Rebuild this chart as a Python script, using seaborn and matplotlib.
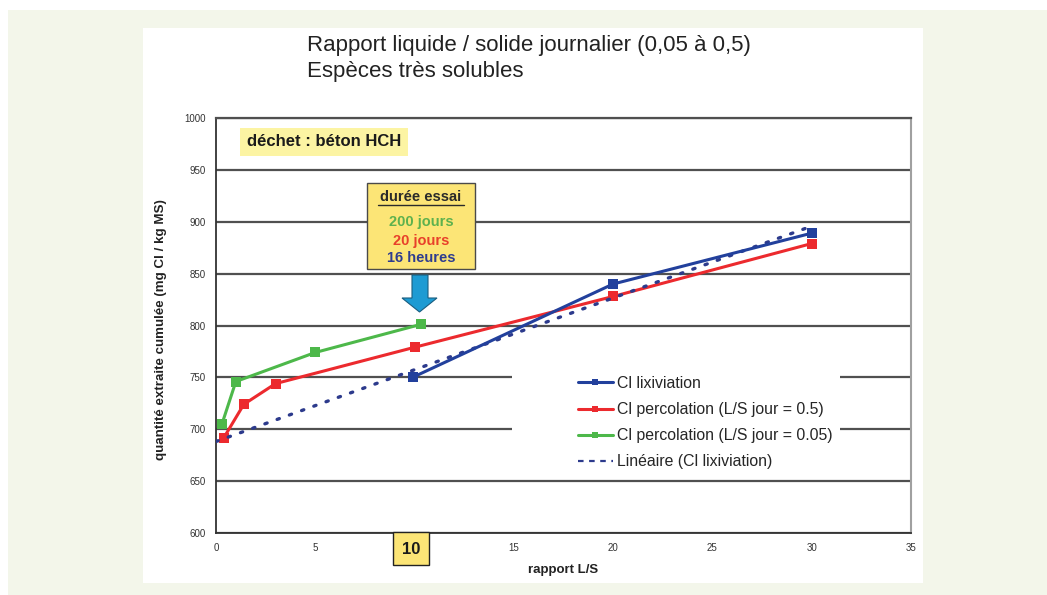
import numpy as np
import pandas as pd
import matplotlib
matplotlib.use("Agg")
import matplotlib.pyplot as plt
import matplotlib.patches as mpatches
from matplotlib.lines import Line2D
import seaborn as sns

# ---- data ----
lix_x = [9.9, 20.0, 30.0]
lix_y = [750, 840, 889]
perc05_x = [0.4, 1.4, 3.0, 10.0, 20.0, 30.0]
perc05_y = [692, 724, 744, 779, 828, 879]
perc005_x = [0.3, 1.0, 5.0, 10.3]
perc005_y = [705, 746, 774, 801]
series_labels = ["Cl lixiviation", "Cl percolation (L/S jour = 0.5)",
                 "Cl percolation (L/S jour = 0.05)", "Linéaire (Cl lixiviation)"]
x_ticks = [0, 5, 10, 15, 20, 25, 30, 35]
y_ticks = [600, 650, 700, 750, 800, 850, 900, 950, 1000]

W, H = 1047, 595
sns.set_style("white")
plt.rcParams['font.family'] = ['Liberation Sans', 'DejaVu Sans']

fig = plt.figure(figsize=(W / 100, H / 100), dpi=100)
fig.patch.set_facecolor("white")

def fx(px):
    return px / W

def fy(py):
    return 1 - py / H

# backgrounds
fig.patches.append(mpatches.Rectangle((fx(8), 0), 1 - fx(8), (H - 10) / H,
                                      transform=fig.transFigure, facecolor="#f3f6ea",
                                      edgecolor="none", zorder=-10))
fig.patches.append(mpatches.Rectangle((fx(143), fy(583)), (923 - 143) / W, (583 - 28) / H,
                                      transform=fig.transFigure, facecolor="white",
                                      edgecolor="none", zorder=-9))

ax = fig.add_axes([fx(216), fy(533), (911 - 216) / W, (533 - 118) / H])
ax.set_facecolor("white")

blue = "#22409c"
red = "#ec2a2e"
green = "#4db84a"
trend_col = "#2c3a8c"

sns.lineplot(x=lix_x, y=lix_y, ax=ax, color=blue, marker="s", markersize=6.5,
             markeredgewidth=0, linewidth=2.2, sort=False, zorder=4)
sns.lineplot(x=perc05_x, y=perc05_y, ax=ax, color=red, marker="s", markersize=6.5,
             markeredgewidth=0, linewidth=2.2, sort=False, zorder=3)
sns.lineplot(x=perc005_x, y=perc005_y, ax=ax, color=green, marker="s", markersize=6.5,
             markeredgewidth=0, linewidth=2.2, sort=False, zorder=3)

# linear trendline of Cl lixiviation
slope, intercept = np.polyfit(lix_x, lix_y, 1)
tx = np.array([0.0, 30.0])
ty = slope * tx + intercept
sns.lineplot(x=tx, y=ty, ax=ax, color=trend_col, linewidth=2.4, sort=False, zorder=3)
tl = ax.lines[-1]
tl.set_linestyle((0, (0.7, 3.2)))
tl.set_dash_capstyle("round")

ax.set_xlim(0, 35)
ax.set_ylim(600, 1000)
ax.set_xticks(x_ticks)
ax.set_yticks(y_ticks)
ax.set_xticks(np.arange(0, 36, 1), minor=True)
ax.set_yticks(np.arange(600, 1001, 10), minor=True)
xl = [str(t) for t in x_ticks]
xl[x_ticks.index(10)] = ""
ax.set_xticklabels(xl)
ax.set_yticklabels([str(t) for t in y_ticks])
ax.tick_params(axis="both", which="major", direction="inout", length=7, width=1.2,
               color="#333333", labelsize=7, labelcolor="#333333")
ax.tick_params(axis="both", which="minor", direction="inout", length=4, width=1.0,
               color="#333333")
ax.tick_params(axis="x", which="major", pad=4)
ax.tick_params(axis="y", which="major", pad=4)

ax.set_axisbelow(True)
ax.yaxis.grid(True, which="major", color="#505050", linewidth=1.6)
ax.xaxis.grid(False)

for s in ["left", "bottom"]:
    ax.spines[s].set_color("#333333")
    ax.spines[s].set_linewidth(1.3)
ax.spines["top"].set_color("#505050")
ax.spines["top"].set_linewidth(1.6)
ax.spines["right"].set_color("#a0a0a0")
ax.spines["right"].set_linewidth(1.5)

ax.set_ylabel("quantité extraite cumulée (mg Cl / kg MS)", fontsize=9.6,
              fontweight="bold", color="#222222")
ax.yaxis.set_label_coords((167 - 216) / 695, 0.49)
ax.set_xlabel("rapport L/S", fontsize=9.5, fontweight="bold", color="#222222")
ax.xaxis.set_label_coords(0.5, (533 - 564) / 415)

# white legend background masking grid
ax.add_patch(mpatches.Rectangle(((512 - 216) / 695, (533 - 478) / 415),
                                (840 - 512) / 695, (478 - 362) / 415,
                                transform=ax.transAxes, facecolor="white",
                                edgecolor="none", zorder=1))

handles = [
    Line2D([], [], color=blue, marker="s", markersize=5, markeredgewidth=0, linewidth=2.2),
    Line2D([], [], color=red, marker="s", markersize=5, markeredgewidth=0, linewidth=2.2),
    Line2D([], [], color=green, marker="s", markersize=5, markeredgewidth=0, linewidth=2.2),
    Line2D([], [], color=trend_col, linewidth=1.6, linestyle=(0, (2.5, 2.5))),
]
ax.legend(handles, series_labels, loc="upper left",
          bbox_to_anchor=((578 - 216) / 695, (533 - 376) / 415),
          frameon=False, fontsize=11.4, borderpad=0, borderaxespad=0,
          handlelength=2.2, handletextpad=0.25, labelspacing=0.7)

# title
fig.text(fx(307), fy(45), "Rapport liquide / solide journalier (0,05 à 0,5)",
         fontsize=16, color="#222222", va="center", ha="left")
fig.text(fx(307), fy(71), "Espèces très solubles",
         fontsize=16, color="#222222", va="center", ha="left")

# déchet box
fig.patches.append(mpatches.Rectangle((fx(240), fy(156)), (408 - 240) / W, 28 / H,
                                      transform=fig.transFigure, facecolor="#fcf4a3",
                                      edgecolor="none", zorder=5))
fig.text(fx(324), fy(142), "déchet : béton HCH", fontsize=12, fontweight="bold",
         color="#1a1a1a", ha="center", va="center", zorder=6)

# durée essai box
fig.patches.append(mpatches.Rectangle((fx(367), fy(269)), (475 - 367) / W, (269 - 183) / H,
                                      transform=fig.transFigure, facecolor="#fce576",
                                      edgecolor="#4a4a4a", linewidth=1.0, zorder=5))
fig.text(fx(421), fy(197), "durée essai", fontsize=10.5, fontweight="bold",
         color="#2a2a2a", ha="center", va="center", zorder=6)
fig.add_artist(Line2D([fx(378), fx(464)], [fy(205), fy(205)], color="#2a2a2a",
                      linewidth=1.0, transform=fig.transFigure, zorder=6))
fig.text(fx(421), fy(222), "200 jours", fontsize=10.5, fontweight="bold",
         color="#5db14e", ha="center", va="center", zorder=6)
fig.text(fx(421), fy(241), "20 jours", fontsize=10.5, fontweight="bold",
         color="#e8402a", ha="center", va="center", zorder=6)
fig.text(fx(421), fy(258), "16 heures", fontsize=10.5, fontweight="bold",
         color="#2e3c8f", ha="center", va="center", zorder=6)

# arrow
arrow_px = [(412, 275), (428, 275), (428, 298), (437, 298), (419.5, 312),
            (402, 298), (412, 298)]
fig.patches.append(mpatches.Polygon([(fx(a), fy(b)) for a, b in arrow_px], closed=True,
                                    transform=fig.transFigure, facecolor="#1d9bd3",
                                    edgecolor="#1a5e80", linewidth=0.8, zorder=5))

# "10" box on the x axis
fig.patches.append(mpatches.Rectangle((fx(393), fy(565)), (429 - 393) / W, (565 - 532) / H,
                                      transform=fig.transFigure, facecolor="#fce576",
                                      edgecolor="#222222", linewidth=1.0, zorder=5))
fig.text(fx(411), fy(549), "10", fontsize=12, fontweight="bold", color="#1a1a1a",
         ha="center", va="center", zorder=6)

fig.savefig("out.png", dpi=100)
